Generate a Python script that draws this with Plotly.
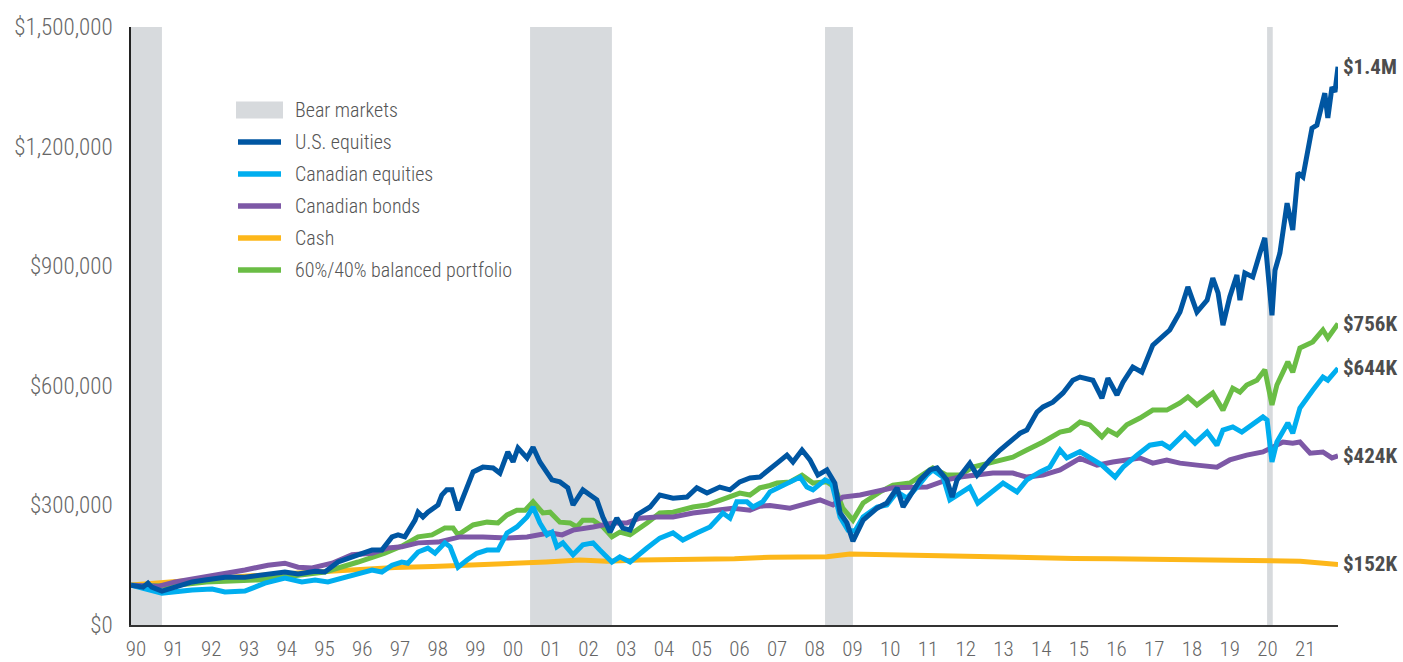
import plotly.graph_objects as go

# ---------------- data (values in $ thousands, x in decimal years) ----------------
us_years = [1990.00, 1990.32, 1990.45, 1990.55, 1990.82, 1991.17, 1991.62, 1991.96, 1992.49, 1993.02,
            1993.55, 1994.08, 1994.43, 1994.88, 1995.14, 1995.49, 1996.02, 1996.39, 1996.65, 1996.92,
            1997.08, 1997.26, 1997.53, 1997.61, 1997.74, 1997.87, 1998.14, 1998.24, 1998.37, 1998.51,
            1998.67, 1999.07, 1999.33, 1999.60, 1999.78, 1999.99, 2000.13, 2000.26, 2000.50, 2000.66,
            2000.84, 2001.03, 2001.16, 2001.37, 2001.58, 2001.72, 2001.98, 2002.17, 2002.35, 2002.51,
            2002.70, 2002.88, 2003.04, 2003.23, 2003.41, 2003.76, 2004.02, 2004.37, 2004.74, 2005.00,
            2005.27, 2005.61, 2005.88, 2006.14, 2006.41, 2006.67, 2006.94, 2007.13, 2007.39, 2007.55,
            2007.79, 2008.00, 2008.21, 2008.45, 2008.66, 2008.80, 2008.98, 2009.14, 2009.41, 2009.78,
            2010.04, 2010.31, 2010.47, 2010.65, 2010.92, 2011.18, 2011.37, 2011.63, 2011.77, 2011.90,
            2012.24, 2012.43, 2012.77, 2013.04, 2013.30, 2013.57, 2013.75, 2014.02, 2014.18, 2014.44,
            2014.71, 2014.97, 2015.16, 2015.42, 2015.50, 2015.74, 2015.90, 2016.14, 2016.30, 2016.56,
            2016.80, 2017.09, 2017.54, 2017.81, 2018.02, 2018.26, 2018.53, 2018.68, 2018.82, 2018.95,
            2019.13, 2019.32, 2019.40, 2019.53, 2019.74, 2019.93, 2020.01, 2020.06, 2020.25, 2020.33,
            2020.46, 2020.65, 2020.80, 2020.94, 2021.07, 2021.31, 2021.44, 2021.65, 2021.73, 2021.84,
            2021.92, 2022.00]
us_equities = [100, 95, 105, 95, 85, 95, 108, 113, 120, 120,
               125, 133, 128, 135, 133, 158, 176, 188, 188, 221,
               226, 221, 263, 283, 271, 283, 301, 326, 339, 339,
               288, 384, 396, 394, 381, 434, 409, 444, 419, 446,
               409, 384, 364, 359, 344, 301, 339, 326, 314, 271,
               233, 268, 243, 238, 276, 296, 326, 318, 321, 344,
               331, 346, 339, 359, 369, 371, 390, 406, 426, 409,
               439, 414, 376, 389, 356, 281, 256, 210, 263, 293,
               306, 344, 296, 321, 364, 389, 394, 364, 321, 364,
               406, 376, 414, 439, 459, 481, 489, 534, 547, 559,
               582, 614, 622, 614, 614, 569, 619, 577, 609, 647,
               634, 702, 740, 785, 848, 785, 815, 870, 833, 752,
               823, 878, 815, 883, 873, 933, 958, 971, 777, 890,
               933, 1058, 991, 1134, 1124, 1246, 1254, 1334, 1272, 1349,
               1337, 1400]

ca_years = [1990.00, 1990.37, 1990.82, 1991.62, 1992.15, 1992.49, 1993.02, 1993.55, 1994.08, 1994.53,
            1994.88, 1995.22, 1995.67, 1996.02, 1996.39, 1996.65, 1996.92, 1997.18, 1997.34, 1997.61,
            1997.87, 1998.06, 1998.32, 1998.46, 1998.67, 1998.91, 1999.17, 1999.44, 1999.73, 1999.97,
            2000.23, 2000.50, 2000.66, 2000.84, 2001.03, 2001.16, 2001.29, 2001.45, 2001.72, 2001.98,
            2002.25, 2002.43, 2002.75, 2002.96, 2003.23, 2003.68, 2004.02, 2004.37, 2004.63, 2005.00,
            2005.35, 2005.69, 2005.88, 2006.06, 2006.33, 2006.49, 2006.75, 2006.94, 2007.39, 2007.74,
            2007.92, 2008.08, 2008.40, 2008.58, 2008.80, 2009.01, 2009.19, 2009.41, 2009.78, 2010.04,
            2010.31, 2010.57, 2010.84, 2011.10, 2011.26, 2011.53, 2011.71, 2011.98, 2012.24, 2012.45,
            2012.77, 2013.12, 2013.49, 2013.75, 2014.10, 2014.36, 2014.63, 2014.81, 2015.16, 2015.42,
            2015.74, 2016.09, 2016.30, 2016.67, 2017.01, 2017.33, 2017.54, 2017.94, 2018.21, 2018.53,
            2018.79, 2018.95, 2019.21, 2019.45, 2019.74, 2020.01, 2020.12, 2020.25, 2020.38, 2020.67,
            2020.80, 2020.99, 2021.33, 2021.60, 2021.73, 2022.00]
canadian_equities = [100, 90, 80, 88, 90, 83, 85, 105, 118, 108,
                     113, 108, 120, 130, 138, 133, 150, 158, 155, 183,
                     193, 180, 206, 196, 145, 163, 180, 188, 188, 231,
                     246, 271, 296, 256, 226, 233, 196, 206, 176, 201,
                     206, 188, 158, 171, 158, 193, 218, 231, 213, 231,
                     246, 281, 268, 309, 309, 296, 309, 334, 356, 371,
                     346, 339, 364, 356, 271, 238, 235, 271, 296, 301,
                     334, 318, 346, 376, 389, 371, 314, 331, 346, 306,
                     331, 356, 334, 364, 384, 396, 439, 419, 435, 421,
                     401, 371, 396, 426, 451, 456, 444, 481, 456, 484,
                     451, 489, 497, 484, 502, 522, 514, 409, 459, 507,
                     481, 544, 589, 622, 614, 644]

bond_years = [1990.00, 1990.72, 1991.17, 1991.96, 1992.49, 1993.02, 1993.63, 1994.08, 1994.43, 1994.80,
              1995.33, 1995.86, 1996.39, 1996.81, 1997.18, 1997.61, 1998.14, 1998.54, 1998.72, 1999.33,
              1999.97, 2000.50, 2001.11, 2001.43, 2001.72, 2002.25, 2002.78, 2003.15, 2003.49, 2003.94,
              2004.37, 2004.90, 2005.43, 2005.96, 2006.41, 2006.67, 2006.94, 2007.47, 2008.27, 2008.61,
              2008.87, 2009.33, 2010.20, 2011.10, 2011.63, 2011.98, 2012.85, 2013.38, 2013.75, 2014.18,
              2014.63, 2015.16, 2015.61, 2016.03, 2016.75, 2017.09, 2017.46, 2017.81, 2018.26, 2018.79,
              2019.13, 2019.58, 2020.01, 2020.54, 2020.80, 2020.99, 2021.26, 2021.60, 2021.84, 2022.00]
canadian_bonds = [100, 97, 108, 120, 130, 138, 150, 155, 145, 143,
                  155, 176, 180, 193, 196, 206, 208, 216, 221, 221,
                  218, 221, 231, 226, 238, 246, 256, 256, 268, 271,
                  271, 281, 288, 293, 288, 298, 300, 293, 314, 301,
                  321, 326, 344, 346, 364, 371, 381, 381, 371, 376,
                  389, 418, 401, 409, 419, 406, 414, 406, 401, 396,
                  414, 426, 434, 459, 456, 459, 431, 434, 419, 424]

cash_years = [1990.00, 1991.00, 1992.00, 1993.00, 1994.00, 1995.00, 1996.00, 1997.00, 1998.00, 1999.00,
              2000.00, 2001.00, 2001.90, 2002.62, 2003.49, 2004.50, 2006.00, 2006.94, 2008.00, 2008.45,
              2009.06, 2010.20, 2011.00, 2012.00, 2013.00, 2014.00, 2015.00, 2016.00, 2017.00, 2018.00,
              2019.00, 2020.00, 2021.00, 2022.00]
cash = [100, 108, 115, 122, 128, 134, 140, 144, 147, 150,
        154, 158, 163, 160, 163, 164, 166, 170, 171, 171,
        178, 176, 174, 170, 168, 168, 167, 166, 165, 163,
        162, 163, 160, 152]

bal_years = [1990.00, 1991.00, 1992.00, 1993.37, 1994.00, 1995.14, 1996.02, 1996.73, 1997.18, 1997.61,
             1997.98, 1998.32, 1998.54, 1998.67, 1999.07, 1999.44, 1999.73, 1999.97, 2000.23, 2000.45,
             2000.66, 2000.92, 2001.11, 2001.37, 2001.64, 2001.82, 2001.98, 2002.25, 2002.51, 2002.75,
             2002.96, 2003.23, 2003.68, 2004.02, 2004.37, 2004.90, 2005.27, 2005.69, 2006.14, 2006.41,
             2006.67, 2006.94, 2007.13, 2007.47, 2007.79, 2008.08, 2008.45, 2008.66, 2008.87, 2009.14,
             2009.41, 2009.86, 2010.20, 2010.65, 2011.00, 2011.26, 2011.63, 2011.98, 2012.32, 2012.85,
             2013.38, 2013.75, 2014.18, 2014.63, 2014.89, 2015.16, 2015.42, 2015.74, 2015.90, 2016.14,
             2016.40, 2016.75, 2017.09, 2017.46, 2017.81, 2018.02, 2018.26, 2018.68, 2018.95, 2019.21,
             2019.40, 2019.58, 2019.85, 2020.06, 2020.25, 2020.38, 2020.67, 2020.80, 2020.99, 2021.33,
             2021.60, 2021.73, 2022.00]
balanced = [100, 98, 108, 113, 120, 133, 158, 180, 198, 221,
            226, 243, 243, 226, 251, 258, 256, 276, 288, 288,
            309, 281, 283, 258, 256, 246, 263, 263, 246, 221,
            233, 226, 256, 281, 283, 296, 301, 314, 331, 326,
            344, 350, 356, 359, 376, 356, 359, 346, 293, 263,
            306, 334, 351, 356, 376, 394, 376, 376, 396, 409,
            421, 439, 459, 484, 489, 509, 502, 472, 489, 477,
            502, 519, 539, 539, 557, 572, 552, 582, 539, 594,
            584, 602, 614, 640, 552, 602, 660, 634, 695, 710,
            740, 720, 756]

bear_start = [1990.00, 2000.58, 2008.40, 2020.12]
bear_end = [1990.82, 2002.75, 2009.14, 2020.27]

series_names = ["U.S. equities", "Canadian equities", "Canadian bonds", "Cash", "60%/40% balanced portfolio"]
end_labels = ["$1.4M", "$644K", "$424K", "$152K", "$756K"]
year_ticks = list(range(1990, 2022))
y_ticks = [0, 300000, 600000, 900000, 1200000, 1500000]

# ---------------- styling ----------------
colors = {
    "U.S. equities": "#0056A2",
    "Canadian equities": "#00AEEF",
    "Canadian bonds": "#7D58A6",
    "Cash": "#FDB71A",
    "60%/40% balanced portfolio": "#6ABD45",
}
bear_color = "#D7DADD"
FONT = "Roboto Condensed, Liberation Sans Narrow, Arial Narrow, Roboto, sans-serif"
W, H = 1403, 662
ML, MR, MT, MB = 131, 65, 27, 37
PW, PH = W - ML - MR, H - MT - MB

def px_to_paper_x(px):
    return (px - ML) / PW

def px_to_paper_y(py):
    return (H - MB - py) / PH

data = {
    "U.S. equities": (us_years, us_equities),
    "Canadian equities": (ca_years, canadian_equities),
    "Canadian bonds": (bond_years, canadian_bonds),
    "Cash": (cash_years, cash),
    "60%/40% balanced portfolio": (bal_years, balanced),
}

fig = go.Figure()

draw_order = ["Cash", "60%/40% balanced portfolio", "Canadian bonds", "Canadian equities", "U.S. equities"]
for name in draw_order:
    xs, ys = data[name]
    fig.add_trace(go.Scatter(
        x=xs, y=[v * 1000 for v in ys], mode="lines", name=name,
        line=dict(color=colors[name], width=5), showlegend=False, hoverinfo="skip"))

# bear market shading
shapes = []
for s, e in zip(bear_start, bear_end):
    shapes.append(dict(type="rect", xref="x", yref="paper", x0=s, x1=e, y0=0, y1=1,
                       fillcolor=bear_color, line=dict(width=0), layer="below"))

# manual legend
annotations = []
leg_x0, leg_x1, leg_text_x = 236, 283, 293
leg_y0, leg_dy = 110, 32
legend_items = ["Bear markets"] + series_names
for i, label in enumerate(legend_items):
    cy = leg_y0 + i * leg_dy
    if i == 0:
        shapes.append(dict(type="rect", xref="paper", yref="paper",
                           x0=px_to_paper_x(leg_x0), x1=px_to_paper_x(leg_x1),
                           y0=px_to_paper_y(cy + 8.5), y1=px_to_paper_y(cy - 8.5),
                           fillcolor=bear_color, line=dict(width=0)))
    else:
        shapes.append(dict(type="line", xref="paper", yref="paper",
                           x0=px_to_paper_x(leg_x0 + 2), x1=px_to_paper_x(leg_x1 - 2),
                           y0=px_to_paper_y(cy), y1=px_to_paper_y(cy),
                           line=dict(color=colors[label], width=5.5)))
    annotations.append(dict(x=px_to_paper_x(leg_text_x), y=px_to_paper_y(cy), xref="paper", yref="paper",
                            text=label, showarrow=False, xanchor="left", yanchor="middle",
                            font=dict(family=FONT, size=20, color="#555555", weight=300)))

# end labels
for name, lab in zip(series_names, end_labels):
    xs, ys = data[name]
    annotations.append(dict(x=xs[-1], y=ys[-1] * 1000, xref="x", yref="y", text="<b>" + lab + "</b>",
                            showarrow=False, xanchor="left", yanchor="middle", xshift=3,
                            font=dict(family=FONT, size=21, color="#4D4D4D")))

fig.update_layout(
    width=W, height=H,
    margin=dict(l=ML, r=MR, t=MT, b=MB, pad=0),
    plot_bgcolor="white", paper_bgcolor="white",
    shapes=shapes, annotations=annotations,
    showlegend=False,
    xaxis=dict(range=[1990, 2022], tickmode="array", automargin=False,
               tickvals=[y + 0.13 for y in year_ticks],
               ticktext=[str(y)[-2:] for y in year_ticks],
               showgrid=False, zeroline=False, showline=True, linecolor="#333333", linewidth=1.5,
               ticks="", ticklabelstandoff=4,
               tickfont=dict(family=FONT, size=21, color="#666666", weight=300)),
    yaxis=dict(range=[0, 1500000], tickmode="array", tickvals=y_ticks, automargin=False,
               ticktext=["$" + format(v, ",") for v in y_ticks],
               showgrid=False, zeroline=False, showline=True, linecolor="#222222", linewidth=1.5,
               ticks="", ticklabelstandoff=12,
               tickfont=dict(family=FONT, size=23, color="#666666", weight=300)),
)

fig.write_html("out.html", config={"displayModeBar": False},
               post_script="document.body.style.margin='0';document.body.style.overflow='hidden';")
